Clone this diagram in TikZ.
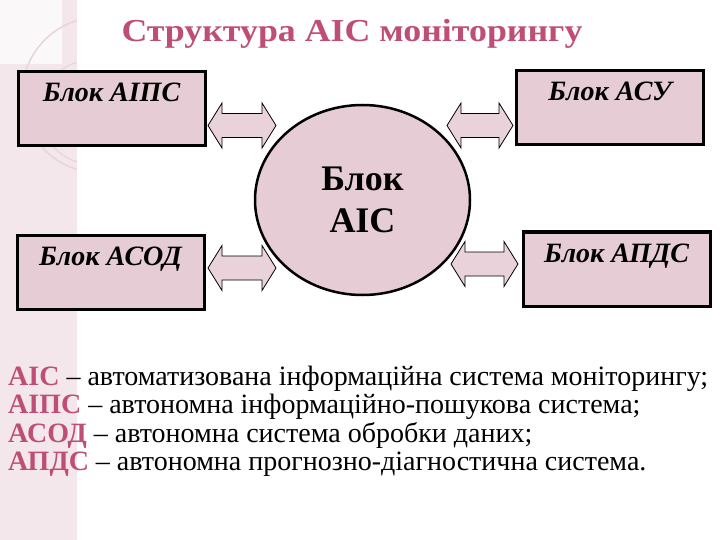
\documentclass[tikz,border=0pt]{standalone}
\usepackage{fontspec}
\setmainfont{Liberation Serif}
\usetikzlibrary{shapes.geometric}
\definecolor{Stripe}{HTML}{F3E7EB}
\definecolor{Ring}{HTML}{E8D4DB}
\definecolor{BoxFill}{HTML}{E6CDD5}
\definecolor{ArrowFill}{HTML}{E9D2D9}
\definecolor{Rose}{HTML}{BF4E77}

\begin{document}
\begin{tikzpicture}[x=1pt,y=-1pt,
  blk/.style={draw=black,line width=3pt,fill=BoxFill,minimum width=187pt,inner ysep=3pt,text height=27pt,text depth=41pt,font=\fontsize{28}{30}\selectfont\bfseries\itshape},
  hub/.style={ellipse,draw=black,line width=2.5pt,fill=BoxFill,minimum width=215pt,minimum height=190pt,inner sep=0pt,align=center,font=\fontsize{36}{42}\selectfont\bfseries},
  dblarrow/.style={draw=black,line width=0.8pt,fill=ArrowFill,line join=miter},
  ttl/.style={text=Rose,font=\fontsize{32}{34}\selectfont\bfseries},
  legend/.style={anchor=base west,inner sep=0pt,font=\fontsize{28}{30}\selectfont}
]
\useasboundingbox (0,0) rectangle (720,540);
% side stripe with faint rings
\fill[Stripe] (0,0) rectangle (77,540);
\begin{scope}
  \clip (0,0) rectangle (77,540);
  \fill[white!70!Stripe] (0,0) rectangle (62,64);
  \draw[Ring,line width=1.5pt] (100,95) circle (78);
  \draw[Ring,line width=1.2pt] (92,112) circle (52);
\end{scope}

\node[ttl,anchor=base] (title) at (352,42) {\scalebox{1.12}[1]{Структура АІС моніторингу}};

\node[blk] (aips) at (111.5,109) {Блок АІПС};
\node[blk] (asu) at (610,107.5) {Блок АСУ};
\node[blk] (asod) at (110.5,272) {Блок АСОД};
\node[blk] (apds) at (616.5,269) {Блок АПДС};
\node[hub] (ais) at (362.5,200) {Блок\\АІС};

% double block arrows
\foreach \xa/\xb/\yc in {208/276/125.5, 447/513/125.5, 208/276/268, 451/518/264}
  \draw[dblarrow] (\xa,\yc) -- (\xa+14,\yc-22.5) -- (\xa+14,\yc-12) -- (\xb-14,\yc-12)
    -- (\xb-14,\yc-22.5) -- (\xb,\yc) -- (\xb-14,\yc+22.5) -- (\xb-14,\yc+12)
    -- (\xa+14,\yc+12) -- (\xa+14,\yc+22.5) -- cycle;

% legend
\foreach \nm/\ab/\tx/\yy in {
  def1/АІС/автоматизована інформаційна система моніторингу;/385,
  def2/АІПС/автономна інформаційно-пошукова система;/413,
  def3/АСОД/автономна система обробки даних;/442,
  def4/АПДС/автономна прогнозно-діагностична система./470}
  \node[legend] (\nm) at (8,\yy) {{\bfseries\color{Rose}\ab} – \tx};
\end{tikzpicture}
\end{document}
